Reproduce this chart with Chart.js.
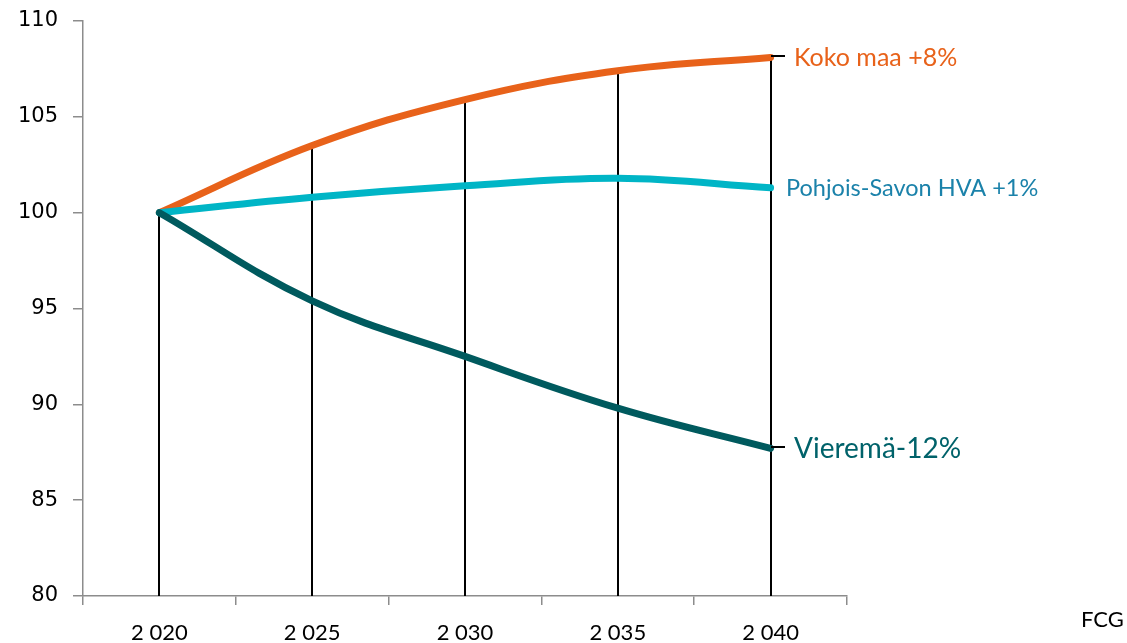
<!DOCTYPE html>
<html><head><meta charset="utf-8">
<script src="https://cdn.jsdelivr.net/npm/chart.js@4"></script>
<style>html,body{margin:0;padding:0;background:#fff}#wrap{width:1127px;height:643px;position:relative}</style>
</head><body><div id="wrap"><canvas id="c" width="1127" height="643"></canvas></div>
<script>
const categories = ["2 020", "2 025", "2 030", "2 035", "2 040"];
const kokoMaa = [100, 103.5, 105.9, 107.4, 108.1];
const pohjoisSavo = [100, 100.8, 101.4, 101.8, 101.3];
const vierema = [100, 95.4, 92.5, 89.8, 87.7];
const seriesLabels = ["Koko maa +8%", "Pohjois-Savon HVA +1%", "Vieremä-12%"];
const yTicks = [80, 85, 90, 95, 100, 105, 110];
const sourceText = "FCG";

const FONT = "Lato, 'Open Sans', sans-serif";
const colors = ["#E8621A", "#00B5C6", "#005A5E"];
const labelColors = ["#E8621A", "#1B82AA", "#00626A"];

const overlay = {
  id: "overlay",
  beforeDatasetsDraw(chart) {
    const ctx = chart.ctx, x = chart.scales.x, y = chart.scales.y;
    ctx.save();
    ctx.strokeStyle = "#000"; ctx.lineWidth = 2;
    categories.forEach((c, i) => {
      const top = Math.max(kokoMaa[i], pohjoisSavo[i], vierema[i]);
      const px = Math.round(x.getPixelForValue(i));
      ctx.beginPath();
      ctx.moveTo(px, y.getPixelForValue(top));
      ctx.lineTo(px, y.bottom);
      ctx.stroke();
    });
    ctx.restore();
  },
  afterDatasetsDraw(chart) {
    const ctx = chart.ctx, x = chart.scales.x, y = chart.scales.y;
    const last = categories.length - 1;
    const px = Math.round(x.getPixelForValue(last));
    const vals = [kokoMaa[last], pohjoisSavo[last], vierema[last]];
    const sizes = [25, 23.5, 28];
    const offs = [23, 15, 23];
    const leaders = [true, false, true];
    ctx.save();
    ctx.textBaseline = "middle"; ctx.textAlign = "left";
    vals.forEach((v, i) => {
      const py = y.getPixelForValue(v);
      if (leaders[i]) {
        ctx.strokeStyle = "#000"; ctx.lineWidth = 2;
        ctx.beginPath(); ctx.moveTo(px, Math.round(py) - 1); ctx.lineTo(px + 14, Math.round(py) - 1); ctx.stroke();
      }
      ctx.fillStyle = labelColors[i];
      ctx.font = sizes[i] + "px " + FONT;
      ctx.fillText(seriesLabels[i], px + offs[i], py + 1);
    });
    ctx.fillStyle = "#000";
    ctx.font = "22px " + FONT;
    ctx.fillText(sourceText, 1081, 620);
    ctx.restore();
  }
};

const mk = (label, data, i) => ({
  label, data, borderColor: colors[i], backgroundColor: colors[i],
  borderWidth: 7, pointRadius: 0, tension: 0.4, fill: false,
  borderCapStyle: "round", borderJoinStyle: "round"
});

new Chart(document.getElementById("c"), {
  type: "line",
  data: {
    labels: categories,
    datasets: [
      mk(seriesLabels[2], vierema, 2),
      mk(seriesLabels[1], pohjoisSavo, 1),
      mk(seriesLabels[0], kokoMaa, 0)
    ]
  },
  options: {
    responsive: false, animation: false,
    layout: { padding: { left: 0, right: 280, top: 21, bottom: 0 } },
    plugins: { legend: { display: false }, tooltip: { enabled: false } },
    scales: {
      x: {
        offset: true,
        grid: { offset: true, drawOnChartArea: false, drawTicks: true, tickLength: 9, color: "#8c8c8c", lineWidth: 1.5 },
        border: { color: "#8c8c8c", width: 1.5 },
        ticks: { color: "#000", font: { family: FONT, size: 22 }, padding: 15, maxRotation: 0 },
        afterFit(s) { s.height = 47; s.paddingLeft = 0; s.paddingRight = 0; }
      },
      y: {
        min: 80, max: 110,
        afterBuildTicks(s) { s.ticks = yTicks.map(v => ({ value: v })); },
        grid: { drawOnChartArea: false, drawTicks: true, tickLength: 10, color: "#8c8c8c", lineWidth: 1.5 },
        border: { color: "#8c8c8c", width: 1.5 },
        ticks: { color: "#000", font: { family: "'DejaVu Sans', sans-serif", size: 21 }, padding: 15 },
        afterFit(s) { s.width = 83; s.paddingTop = 0; s.paddingBottom = 0; }
      }
    }
  },
  plugins: [overlay]
});
</script></body></html>
